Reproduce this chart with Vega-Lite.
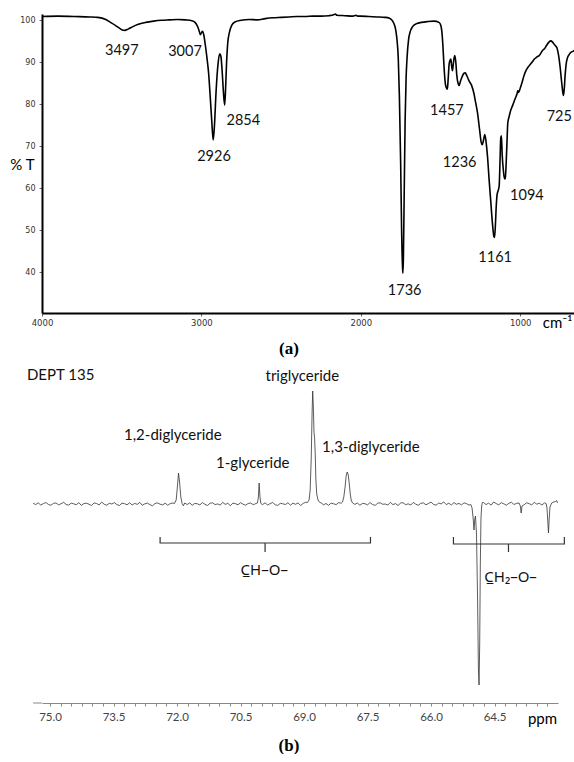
{
  "$schema": "https://vega.github.io/schema/vega-lite/v6.json",
  "autosize": {"type": "pad"},
  "padding": {"left": 9, "top": 10, "right": 0, "bottom": 0},
  "background": "white",
  "spacing": 10,
  "config": {"view": {"stroke": null}, "font": "Lato"},
  "datasets": {
    "ir": [
      {"w":4000,"t":100.9},{"w":3900,"t":101.0},{"w":3800,"t":100.9},{"w":3700,"t":100.8},{"w":3650,"t":100.7},{"w":3600,"t":100.2},{"w":3570,"t":99.5},{"w":3540,"t":98.8},{"w":3510,"t":98.0},{"w":3497,"t":97.7},{"w":3480,"t":97.6},{"w":3460,"t":97.9},{"w":3430,"t":98.5},{"w":3400,"t":99.0},{"w":3350,"t":99.5},{"w":3300,"t":99.8},{"w":3250,"t":100.0},{"w":3200,"t":100.1},{"w":3150,"t":100.2},{"w":3100,"t":100.1},{"w":3060,"t":99.9},{"w":3040,"t":99.5},{"w":3025,"t":98.6},{"w":3015,"t":97.6},{"w":3007,"t":96.6},{"w":3000,"t":97.0},{"w":2993,"t":97.4},{"w":2985,"t":96.5},{"w":2975,"t":94},{"w":2965,"t":91},{"w":2955,"t":87.5},{"w":2945,"t":82},{"w":2935,"t":76},{"w":2926,"t":71.5},{"w":2918,"t":75},{"w":2908,"t":83},{"w":2896,"t":89.5},{"w":2885,"t":92.0},{"w":2878,"t":91.5},{"w":2870,"t":88},{"w":2862,"t":83},{"w":2854,"t":79.8},{"w":2848,"t":84},{"w":2842,"t":90},{"w":2835,"t":94.5},{"w":2825,"t":97},{"w":2810,"t":98.8},{"w":2790,"t":99.6},{"w":2750,"t":100.0},{"w":2700,"t":100.2},{"w":2650,"t":100.1},{"w":2600,"t":100.4},{"w":2550,"t":100.6},{"w":2500,"t":100.7},{"w":2450,"t":100.8},{"w":2400,"t":100.9},{"w":2350,"t":100.9},{"w":2300,"t":101.0},{"w":2250,"t":101.0},{"w":2200,"t":101.1},{"w":2170,"t":101.3},{"w":2160,"t":101.5},{"w":2150,"t":101.2},{"w":2100,"t":101.1},{"w":2050,"t":101.0},{"w":2030,"t":101.2},{"w":2020,"t":101.0},{"w":2000,"t":101.0},{"w":1950,"t":100.9},{"w":1900,"t":100.8},{"w":1850,"t":100.7},{"w":1820,"t":100.5},{"w":1800,"t":99.8},{"w":1790,"t":99.0},{"w":1780,"t":97.5},{"w":1772,"t":95},{"w":1765,"t":91},{"w":1758,"t":82},{"w":1750,"t":66},{"w":1744,"t":50},{"w":1738,"t":41},{"w":1736,"t":39.8},{"w":1733,"t":43},{"w":1728,"t":58},{"w":1722,"t":76},{"w":1716,"t":86},{"w":1710,"t":91},{"w":1700,"t":95.5},{"w":1690,"t":97.3},{"w":1675,"t":98.5},{"w":1650,"t":99.2},{"w":1620,"t":99.5},{"w":1580,"t":99.7},{"w":1540,"t":99.8},{"w":1510,"t":99.5},{"w":1500,"t":99.0},{"w":1492,"t":97.5},{"w":1485,"t":94},{"w":1478,"t":89},{"w":1470,"t":85},{"w":1464,"t":84},{"w":1457,"t":83.6},{"w":1452,"t":86},{"w":1446,"t":89.5},{"w":1440,"t":90.5},{"w":1435,"t":90.8},{"w":1430,"t":89},{"w":1425,"t":88},{"w":1420,"t":89.5},{"w":1415,"t":91},{"w":1410,"t":91.6},{"w":1404,"t":90},{"w":1398,"t":87},{"w":1390,"t":85},{"w":1383,"t":84.5},{"w":1375,"t":85.5},{"w":1365,"t":86.5},{"w":1355,"t":87.3},{"w":1345,"t":87.5},{"w":1335,"t":86.8},{"w":1320,"t":85.5},{"w":1305,"t":84.5},{"w":1290,"t":82.5},{"w":1280,"t":80.5},{"w":1268,"t":78},{"w":1255,"t":74},{"w":1245,"t":71},{"w":1238,"t":70.4},{"w":1230,"t":71.5},{"w":1222,"t":72.8},{"w":1214,"t":71},{"w":1205,"t":67.5},{"w":1195,"t":62},{"w":1185,"t":57},{"w":1175,"t":52},{"w":1165,"t":48.5},{"w":1161,"t":48.3},{"w":1156,"t":51},{"w":1150,"t":56},{"w":1145,"t":58.5},{"w":1138,"t":59.5},{"w":1132,"t":60.5},{"w":1127,"t":66},{"w":1122,"t":72},{"w":1118,"t":72.5},{"w":1113,"t":68},{"w":1105,"t":64},{"w":1098,"t":62.2},{"w":1094,"t":62.3},{"w":1088,"t":66},{"w":1082,"t":72},{"w":1078,"t":75.5},{"w":1070,"t":77},{"w":1060,"t":78.5},{"w":1050,"t":79.5},{"w":1040,"t":80.5},{"w":1030,"t":81.5},{"w":1020,"t":82.5},{"w":1015,"t":83.3},{"w":1010,"t":82.8},{"w":1000,"t":83.8},{"w":990,"t":85},{"w":975,"t":87},{"w":960,"t":88.3},{"w":950,"t":88.9},{"w":935,"t":89.6},{"w":920,"t":90.3},{"w":911,"t":90.8},{"w":900,"t":91.1},{"w":890,"t":91.4},{"w":880,"t":91.6},{"w":870,"t":92.2},{"w":860,"t":92.8},{"w":848,"t":93.2},{"w":835,"t":94},{"w":820,"t":94.8},{"w":807,"t":95.1},{"w":797,"t":94.8},{"w":787,"t":94.3},{"w":778,"t":93.9},{"w":769,"t":93.4},{"w":760,"t":91.8},{"w":750,"t":89},{"w":742,"t":86},{"w":735,"t":83.5},{"w":729,"t":82.1},{"w":724,"t":83.5},{"w":718,"t":87},{"w":712,"t":89.5},{"w":704,"t":91},{"w":692,"t":91.9},{"w":680,"t":92.4},{"w":670,"t":92.6},{"w":660,"t":92.8},{"w":650,"t":93.0}
    ],
    "irlab": [
      {"w":3499,"t":92.6,"label":"3497"},{"w":3103,"t":92.4,"label":"3007"},{"w":2737,"t":76.1,"label":"2854"},{"w":2921,"t":67.5,"label":"2926"},{"w":1725,"t":35.5,"label":"1736"},{"w":1460,"t":78.5,"label":"1457"},{"w":1380,"t":66,"label":"1236"},{"w":958,"t":58.1,"label":"1094"},{"w":1157,"t":43.5,"label":"1161"},{"w":755,"t":77,"label":"725"}
    ],
    "nmr": [
      {"p":75.40,"v":0.8},{"p":75.34,"v":-0.6},{"p":75.28,"v":1.2},{"p":75.22,"v":-1.0},{"p":75.16,"v":0.3},{"p":75.10,"v":1.5},{"p":75.04,"v":-0.4},{"p":74.98,"v":-1.3},{"p":74.92,"v":0.6},{"p":74.86,"v":1.0},{"p":74.80,"v":-0.8},{"p":74.74,"v":0.2},{"p":74.68,"v":1.7},{"p":74.62,"v":-0.5},{"p":74.56,"v":-1.1},{"p":74.50,"v":0.9},{"p":74.44,"v":0.1},{"p":74.38,"v":-0.7},{"p":74.32,"v":1.3},{"p":74.26,"v":-1.4},{"p":74.20,"v":0.4},{"p":74.14,"v":0.8},{"p":74.08,"v":-0.2},{"p":74.02,"v":-1.6},{"p":73.96,"v":1.1},{"p":73.90,"v":0.5},{"p":73.84,"v":-0.9},{"p":73.78,"v":1.9},{"p":73.72,"v":-0.3},{"p":73.66,"v":-1.2},{"p":73.60,"v":0.7},{"p":73.54,"v":0.0},{"p":73.48,"v":1.4},{"p":73.42,"v":-0.6},{"p":73.36,"v":-1.5},{"p":73.30,"v":0.9},{"p":73.24,"v":0.3},{"p":73.18,"v":-0.8},{"p":73.12,"v":1.2},{"p":73.06,"v":-1.0},{"p":73.00,"v":0.6},{"p":72.94,"v":-0.4},{"p":72.88,"v":1.6},{"p":72.82,"v":-1.3},{"p":72.76,"v":0.2},{"p":72.70,"v":0.9},{"p":72.64,"v":-0.7},{"p":72.58,"v":-1.8},{"p":72.52,"v":0.5},{"p":72.46,"v":1.1},{"p":72.40,"v":-0.2},{"p":72.34,"v":-0.9},{"p":72.28,"v":0.8},{"p":72.22,"v":-1.2},{"p":72.16,"v":0.4},{"p":72.10,"v":1.0},
      {"p":72.06,"v":0.5},{"p":72.02,"v":4},{"p":71.99,"v":18},{"p":71.965,"v":31},{"p":71.94,"v":22},{"p":71.91,"v":7},{"p":71.88,"v":0.5},{"p":71.85,"v":-1.8},{"p":71.82,"v":1},
      {"p":71.76,"v":-0.5},{"p":71.70,"v":1.1},{"p":71.64,"v":-1.3},{"p":71.58,"v":0.6},{"p":71.52,"v":0.2},{"p":71.46,"v":-0.9},{"p":71.40,"v":1.4},{"p":71.34,"v":-0.3},{"p":71.28,"v":-1.5},{"p":71.22,"v":0.8},{"p":71.16,"v":1.2},{"p":71.10,"v":-0.6},{"p":71.04,"v":0.1},{"p":70.98,"v":-1.1},{"p":70.92,"v":1.6},{"p":70.86,"v":-0.4},{"p":70.80,"v":0.7},{"p":70.74,"v":-1.7},{"p":70.68,"v":0.9},{"p":70.62,"v":0.3},{"p":70.56,"v":-0.8},{"p":70.50,"v":1.3},{"p":70.44,"v":-0.2},{"p":70.38,"v":-1.2},{"p":70.32,"v":0.5},{"p":70.26,"v":1.0},{"p":70.20,"v":-0.7},{"p":70.14,"v":0.4},
      {"p":70.10,"v":1},{"p":70.08,"v":6},{"p":70.06,"v":21},{"p":70.04,"v":7},{"p":70.02,"v":0.5},
      {"p":69.98,"v":-0.6},{"p":69.92,"v":1.2},{"p":69.86,"v":-1.0},{"p":69.80,"v":0.4},{"p":69.74,"v":1.5},{"p":69.68,"v":-0.8},{"p":69.62,"v":-1.4},{"p":69.56,"v":0.7},{"p":69.50,"v":0.2},{"p":69.44,"v":-0.5},{"p":69.38,"v":1.3},{"p":69.32,"v":-1.2},{"p":69.26,"v":0.9},{"p":69.20,"v":-0.3},{"p":69.14,"v":1.1},{"p":69.08,"v":-1.6},{"p":69.02,"v":0.6},{"p":68.96,"v":1.8},
      {"p":68.92,"v":1.5},{"p":68.88,"v":4},{"p":68.855,"v":14},{"p":68.83,"v":45},{"p":68.81,"v":90},{"p":68.795,"v":113},{"p":68.78,"v":98},{"p":68.765,"v":72},{"p":68.75,"v":66},{"p":68.735,"v":50},{"p":68.72,"v":25},{"p":68.70,"v":10},{"p":68.67,"v":4},{"p":68.64,"v":2},
      {"p":68.60,"v":1.2},{"p":68.54,"v":-0.8},{"p":68.48,"v":0.5},{"p":68.42,"v":-1.3},{"p":68.36,"v":0.9},{"p":68.30,"v":0.2},{"p":68.24,"v":-0.6},{"p":68.18,"v":1.4},{"p":68.12,"v":0.8},
      {"p":68.09,"v":2},{"p":68.06,"v":7},{"p":68.03,"v":17},{"p":68.005,"v":28},{"p":67.98,"v":32},{"p":67.955,"v":29},{"p":67.93,"v":20},{"p":67.905,"v":9},{"p":67.88,"v":3},{"p":67.85,"v":1},
      {"p":67.80,"v":-0.4},{"p":67.74,"v":1.0},{"p":67.68,"v":-1.2},{"p":67.62,"v":0.6},{"p":67.56,"v":0.3},{"p":67.50,"v":-0.9},{"p":67.44,"v":1.5},{"p":67.38,"v":-0.5},{"p":67.32,"v":-1.4},{"p":67.26,"v":0.8},{"p":67.20,"v":1.2},{"p":67.14,"v":-0.3},{"p":67.08,"v":0.0},{"p":67.02,"v":-1.1},{"p":66.96,"v":1.7},{"p":66.90,"v":-0.6},{"p":66.84,"v":0.4},{"p":66.78,"v":-1.5},{"p":66.72,"v":0.9},{"p":66.66,"v":1.3},{"p":66.60,"v":-0.7},{"p":66.54,"v":0.2},{"p":66.48,"v":-1.0},{"p":66.42,"v":1.6},{"p":66.36,"v":-0.2},{"p":66.30,"v":-1.3},{"p":66.24,"v":0.7},{"p":66.18,"v":1.1},{"p":66.12,"v":-0.8},{"p":66.06,"v":0.5},{"p":66.00,"v":1.9},{"p":65.94,"v":-0.4},{"p":65.88,"v":-1.2},{"p":65.82,"v":0.9},{"p":65.76,"v":0.1},{"p":65.70,"v":2.1},{"p":65.64,"v":-0.6},{"p":65.58,"v":0.8},{"p":65.52,"v":-1.0},{"p":65.46,"v":1.4},{"p":65.40,"v":-0.3},{"p":65.34,"v":0.6},{"p":65.28,"v":-0.9},{"p":65.22,"v":1.2},{"p":65.16,"v":0.3},{"p":65.10,"v":-1.1},
      {"p":65.06,"v":-0.5},{"p":65.03,"v":-4},{"p":65.005,"v":-14},{"p":64.985,"v":-26},{"p":64.965,"v":-15},{"p":64.95,"v":-12},{"p":64.925,"v":-30},{"p":64.90,"v":-95},{"p":64.88,"v":-165},{"p":64.865,"v":-181},{"p":64.85,"v":-140},{"p":64.835,"v":-60},{"p":64.82,"v":-15},{"p":64.805,"v":-3},{"p":64.79,"v":1.5},
      {"p":64.76,"v":1.5},{"p":64.70,"v":-0.6},{"p":64.64,"v":0.9},{"p":64.58,"v":-1.1},{"p":64.52,"v":2.0},{"p":64.46,"v":0.4},{"p":64.40,"v":-0.8},{"p":64.34,"v":1.3},{"p":64.28,"v":0.2},{"p":64.22,"v":-1.2},{"p":64.16,"v":0.7},{"p":64.10,"v":1.8},{"p":64.04,"v":-0.5},{"p":63.98,"v":0.6},{"p":63.92,"v":1.0},
      {"p":63.89,"v":-2},{"p":63.87,"v":-9},{"p":63.85,"v":-2},
      {"p":63.80,"v":-0.7},{"p":63.74,"v":1.2},{"p":63.68,"v":0.3},{"p":63.62,"v":-0.9},{"p":63.56,"v":1.6},{"p":63.50,"v":-0.2},{"p":63.44,"v":0.8},{"p":63.38,"v":-1.0},{"p":63.32,"v":1.1},{"p":63.28,"v":0.4},
      {"p":63.26,"v":-4},{"p":63.24,"v":-18},{"p":63.225,"v":-29},{"p":63.21,"v":-16},{"p":63.19,"v":-3},
      {"p":63.15,"v":1.0},{"p":63.10,"v":2.0},{"p":63.06,"v":2.5},{"p":63.03,"v":3.5},{"p":63.01,"v":1.0}
    ],
    "brackets": [
      {"g":"a","o":1,"p":72.40,"v":-33},{"g":"a","o":2,"p":72.40,"v":-39},{"g":"a","o":3,"p":69.92,"v":-39},{"g":"a","o":4,"p":69.92,"v":-48},{"g":"a","o":5,"p":69.92,"v":-39},{"g":"a","o":6,"p":67.43,"v":-39},{"g":"a","o":7,"p":67.43,"v":-33},
      {"g":"b","o":1,"p":65.47,"v":-33},{"g":"b","o":2,"p":65.47,"v":-40},{"g":"b","o":3,"p":64.17,"v":-40},{"g":"b","o":4,"p":64.17,"v":-48},{"g":"b","o":5,"p":64.17,"v":-40},{"g":"b","o":6,"p":62.85,"v":-40},{"g":"b","o":7,"p":62.85,"v":-33}
    ],
    "nmrlab": [
      {"p":74.75,"v":129,"label":"DEPT 135"},
      {"p":69.04,"v":128,"label":"triglyceride"},
      {"p":72.10,"v":69,"label":"1,2-diglyceride"},
      {"p":70.21,"v":41,"label":"1-glyceride"},
      {"p":67.42,"v":57,"label":"1,3-diglyceride"}
    ],
    "grouplab": [
      {"p":69.94,"v":-66,"label":"C̲H–O–"},
      {"p":64.12,"v":-73,"label":"C̲H₂–O–"}
    ]
  },
  "vconcat": [
    {
      "width": 534,
      "height": 299,
      "title": {"text": "(a)", "orient": "bottom", "anchor": "middle", "font": "Liberation Serif", "fontSize": 17, "fontWeight": "bold", "color": "black", "offset": 11, "dx": -20},
      "layer": [
        {
          "data": {"name": "ir"},
          "mark": {"type": "line", "color": "black", "strokeWidth": 1.6, "interpolate": "monotone"},
          "encoding": {
            "x": {"field": "w", "type": "quantitative",
              "scale": {"domain": [650, 4000], "reverse": true, "nice": false, "zero": false},
              "axis": {"title": "cm⁻¹", "values": [4000, 3000, 2000, 1000], "format": "d", "grid": false,
                "labelFont": "DejaVu Sans", "labelFontSize": 8.5, "labelColor": "#333", "labelFlush": false, "labelOverlap": false,
                "domainColor": "black", "domainWidth": 2, "tickColor": "#666", "tickSize": 3, "labelPadding": 2,
                "titleFont": "Lato", "titleFontSize": 15, "titleFontWeight": "normal", "titleColor": "black",
                "titleX": 515, "titleY": 9, "titleBaseline": "middle", "titleAlign": "center"}},
            "y": {"field": "t", "type": "quantitative",
              "scale": {"domain": [30.3, 101.5], "nice": false, "zero": false},
              "axis": {"title": "% T", "values": [40, 50, 60, 70, 80, 90, 100], "grid": false,
                "labelFont": "DejaVu Sans", "labelFontSize": 8, "labelColor": "#333",
                "domainColor": "black", "domainWidth": 2, "tickColor": "#666", "tickSize": 3, "labelPadding": 4,
                "titleAngle": 0, "titleX": -20, "titleY": 150, "titleAlign": "center", "titleBaseline": "middle",
                "titleFont": "Lato", "titleFontSize": 15, "titleFontWeight": "normal", "titleColor": "black"}}
          }
        },
        {
          "data": {"name": "irlab"},
          "mark": {"type": "text", "font": "Lato", "fontSize": 14.5, "color": "#111", "baseline": "middle"},
          "encoding": {
            "x": {"field": "w", "type": "quantitative"},
            "y": {"field": "t", "type": "quantitative"},
            "text": {"field": "label"}
          }
        }
      ]
    },
    {
      "width": 516,
      "height": 333,
      "title": {"text": "(b)", "orient": "bottom", "anchor": "middle", "font": "Liberation Serif", "fontSize": 17, "fontWeight": "bold", "color": "black", "offset": 12, "dx": -11},
      "resolve": {"axis": {"x": "independent"}},
      "layer": [
        {
          "data": {"name": "nmr"},
          "mark": {"type": "line", "color": "#333", "strokeWidth": 0.8},
          "encoding": {
            "x": {"field": "p", "type": "quantitative",
              "scale": {"domain": [63.0, 75.19], "reverse": true, "nice": false, "zero": false},
              "axis": {"orient": "bottom", "title": "ppm", "values": [75, 73.5, 72, 70.5, 69, 67.5, 66, 64.5], "format": ".1f",
                "grid": false, "labelFont": "Lato", "labelFontSize": 11.5, "labelColor": "#444", "labelFlush": false, "labelOverlap": false,
                "domainColor": "#888", "domainWidth": 1, "tickColor": "#888", "tickSize": 3, "labelPadding": 5,
                "titleFont": "Lato", "titleFontSize": 15, "titleFontWeight": "normal", "titleColor": "black",
                "titleX": 500, "titleY": 15, "titleBaseline": "middle", "titleAlign": "center"}},
            "y": {"field": "v", "type": "quantitative",
              "scale": {"domain": [-199, 134], "nice": false, "zero": false},
              "axis": null}
          }
        },
        {
          "data": {"values": [{}]},
          "mark": {"type": "rule", "color": "#888", "strokeWidth": 1},
          "encoding": {
            "x": {"datum": 75.4, "type": "quantitative", "axis": null},
            "x2": {"datum": 75.19},
            "y": {"datum": -199, "type": "quantitative"}
          }
        },
        {
          "data": {"name": "brackets"},
          "mark": {"type": "line", "color": "#333", "strokeWidth": 1.2},
          "encoding": {
            "x": {"field": "p", "type": "quantitative",
              "axis": {"orient": "bottom", "title": null, "labels": false, "domain": false, "grid": false,
                "values": [75.25, 74.75, 74.5, 74.25, 74, 73.75, 73.25, 73, 72.75, 72.5, 72.25, 71.75, 71.5, 71.25, 71, 70.75, 70.25, 70, 69.75, 69.5, 69.25, 68.75, 68.5, 68.25, 68, 67.75, 67.25, 67, 66.75, 66.5, 66.25, 65.75, 65.5, 65.25, 65, 64.75, 64.25, 64, 63.75, 63.5, 63.25],
                "tickColor": "#888", "tickSize": 3}},
            "y": {"field": "v", "type": "quantitative"},
            "detail": {"field": "g"},
            "order": {"field": "o"}
          }
        },
        {
          "data": {"name": "nmrlab"},
          "mark": {"type": "text", "font": "Lato", "fontSize": 15, "color": "#111", "baseline": "middle"},
          "encoding": {
            "x": {"field": "p", "type": "quantitative", "axis": null},
            "y": {"field": "v", "type": "quantitative"},
            "text": {"field": "label"}
          }
        },
        {
          "data": {"name": "grouplab"},
          "mark": {"type": "text", "font": "Noto Sans", "fontSize": 15, "color": "#111", "baseline": "middle"},
          "encoding": {
            "x": {"field": "p", "type": "quantitative", "axis": null},
            "y": {"field": "v", "type": "quantitative"},
            "text": {"field": "label"}
          }
        }
      ]
    }
  ]
}
